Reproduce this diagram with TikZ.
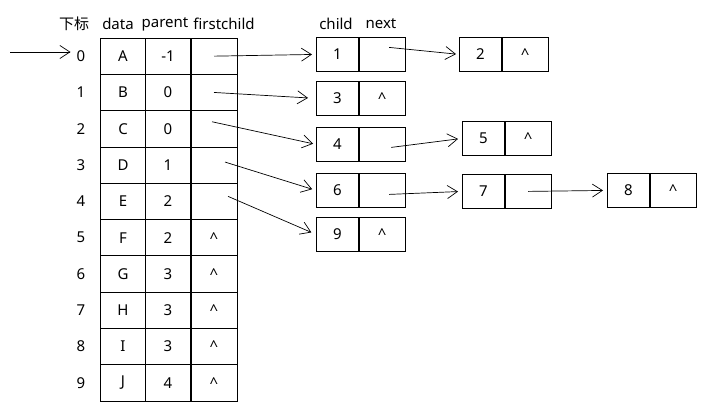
\documentclass[tikz,border=0pt]{standalone}
\usepackage{fontspec}
\setmainfont{Noto Sans}
\newfontfamily\cjk{Noto Sans CJK SC}
\usetikzlibrary{arrows.meta, positioning}

\newcommand{\nullz}{\textasciicircum}

\tikzset{
	txt/.style={inner sep=0pt, font=\fontsize{15}{15}\selectfont},
	zelle/.style={txt, draw, line width=0.8pt, minimum width=45pt, minimum height=36.3pt},
	kind/.style={txt, draw, line width=0.8pt, minimum width=42pt, minimum height=34pt},
	naechst/.style={kind, minimum width=46pt},
	pfeil/.style={line width=0.7pt, -{Straight Barb[length=10pt,width=13pt]}}
}

\begin{document}
\begin{tikzpicture}[x=1pt,y=-1pt]
		\useasboundingbox (0,0) rectangle (711,412);
		
		% Kopfzeile
		\node[txt] (hIdx) at (74,24) {\cjk 下标};
		\node[txt] (hData) at (118,24) {data};
		\node[txt] (hPar) at (165,24) {parent};
		\node[txt] (hFc) at (224,24) {firstchild};
		\node[txt] (hChild) at (336,24) {child};
		\node[txt] (hNext) at (381,24) {next};
		
		% Tabelle
		\foreach \i/\d/\p/\f in {0/A/-1/{},1/B/0/{},2/C/0/{},3/D/1/{},4/E/2/{},
			5/F/2/\nullz,6/G/3/\nullz,7/H/3/\nullz,8/I/3/\nullz,9/J/4/\nullz}{
			\node[txt] (idx\i) at (81,{56.15+36.3*\i}) {\i};
			\node[zelle] (data\i) at (123,{56.15+36.3*\i}) {\d};
			\node[zelle] (par\i) at (168,{56.15+36.3*\i}) {\p};
			\node[zelle, minimum width=46pt] (fc\i) at (214,{56.15+36.3*\i}) {\f};
		}
		
		% Kindknoten
		\node[kind, anchor=north west] (c1) at (316,37) {1};
		\node[naechst, right=0pt of c1] (n1) {};
		\node[kind, anchor=north west] (c2) at (459,37) {2};
		\node[naechst, right=0pt of c2] (n2) {\nullz};
		\node[kind, anchor=north west] (c3) at (316,81) {3};
		\node[naechst, right=0pt of c3] (n3) {\nullz};
		\node[kind, anchor=north west] (c4) at (316,127) {4};
		\node[naechst, right=0pt of c4] (n4) {};
		\node[kind, anchor=north west] (c5) at (462,121) {5};
		\node[naechst, right=0pt of c5] (n5) {\nullz};
		\node[kind, anchor=north west] (c6) at (316,173) {6};
		\node[naechst, right=0pt of c6] (n6) {};
		\node[kind, anchor=north west] (c7) at (462,174) {7};
		\node[naechst, right=0pt of c7] (n7) {};
		\node[kind, anchor=north west] (c8) at (607,173) {8};
		\node[naechst, right=0pt of c8] (n8) {\nullz};
		\node[kind, anchor=north west] (c9) at (316,217) {9};
		\node[naechst, right=0pt of c9] (n9) {\nullz};
		
		% Pfeile
		\coordinate (start) at (10,52);
		\draw[pfeil, shorten >=6pt] (start) -- (start -| idx0.west);
		\draw[pfeil, shorten >=4pt] (fc0.center) -- (c1.west);
		\draw[pfeil, shorten >=8pt] (fc1.center) -- (c3.west);
		\draw[pfeil, shorten >=3pt] ([xshift=-2pt,yshift=7pt]fc2.center) -- (c4.west);
		\draw[pfeil, shorten >=4pt] ([xshift=11pt,yshift=3pt]fc3.center) -- (c6.west);
		\draw[pfeil, shorten >=5pt] ([xshift=14pt,yshift=5pt]fc4.center) -- (c9.west);
		\draw[pfeil, shorten >=3pt] ([xshift=7pt,yshift=7pt]n1.center) -- (c2.west);
		\draw[pfeil, shorten >=4pt] ([xshift=9pt,yshift=-3pt]n4.center) -- (c5.west);
		\draw[pfeil, shorten >=4pt] ([xshift=7pt,yshift=-4pt]n6.center) -- (c7.west);
		\draw[pfeil, shorten >=4pt] (n7.center) -- (c8.west);
\end{tikzpicture}
\end{document}
